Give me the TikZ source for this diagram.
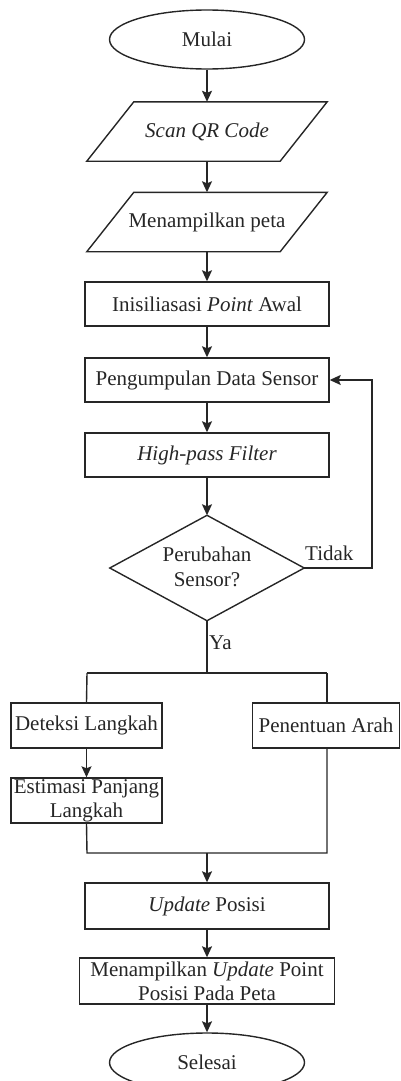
\documentclass[tikz,border=0pt]{standalone}
\usepackage{fontspec}
\setmainfont{Liberation Serif}
\usetikzlibrary{shapes.geometric,arrows.meta}
\begin{document}
\begin{tikzpicture}[x=1pt,y=-1pt,
  every node/.style={font=\fontsize{21}{25}\selectfont, text=black!85, align=center, inner sep=0pt},
  line/.style={line width=1.4pt, draw=black!85},
  arr/.style={line, -{Stealth[length=11pt,width=10pt,inset=2pt]}},
  term/.style={ellipse, line, minimum width=195pt, minimum height=59pt},
  procbox/.style={rectangle, line, minimum height=45pt},
  iobox/.style={rectangle, minimum width=240pt, minimum height=59pt},
  frame/.style={rectangle, minimum width=194pt, minimum height=105pt}
]
\useasboundingbox (0,0) rectangle (400,1081);
\clip (0,0) rectangle (400,1081);

% terminals, inputs and process steps
\node[term] (start) at (207,39.5) {Mulai};
\node[iobox] (scan) at (207,131.5) {\textit{Scan QR Code}};
\node[iobox] (map) at (207,222) {Menampilkan peta};
\node[procbox, minimum width=244pt, minimum height=44pt] (init) at (207,304) {Inisiliasasi \textit{Point} Awal};
\node[procbox, minimum width=244pt, minimum height=44pt] (collect) at (207,380) {Pengumpulan Data Sensor};
\node[procbox, minimum width=244pt, minimum height=44pt] (hpf) at (207,455) {\textit{High-pass Filter}};
\node[frame] (dec) at (207,568) {};
\node (dectext) at (207,567) {Perubahan\\Sensor?};
\node[procbox, minimum width=151pt] (step) at (86.5,725.5) {Deteksi Langkah};
\node[procbox, minimum width=147pt] (heading) at (326,725.5) {Penentuan Arah};
\node[procbox, minimum width=151pt, font=\fontsize{21}{24}\selectfont] (est) at (86.5,800.5) {Estimasi Panjang\\Langkah};
\node[procbox, minimum width=244pt, minimum height=46pt] (upd) at (207,906) {\textit{Update} Posisi};
\node[procbox, minimum width=255pt, minimum height=46pt, font=\fontsize{21}{24}\selectfont] (show) at (207,981) {Menampilkan \textit{Update} Point\\Posisi Pada Peta};
\node[term] (end) at (207,1062.5) {Selesai};

% parallelogram outlines for the input/output steps
\foreach \n in {scan,map}{
  \draw[line] ([xshift=47pt]\n.north west) -- (\n.north east)
    -- ([xshift=-47pt]\n.south east) -- (\n.south west) -- cycle;
}
% decision diamond
\draw[line] (dec.north) -- (dec.east) -- (dec.south) -- (dec.west) -- cycle;

% branch and merge points
\coordinate (split) at (207,673);
\coordinate (splitL) at (87,673);
\coordinate (splitR) at (327,673);
\coordinate (mergeL) at (87,853);
\coordinate (mergeR) at (327,853);
\coordinate (merge) at (207,853);
\coordinate (loop) at (372,568);
\coordinate (loopTop) at (372,380);

% main flow
\draw[arr] (start) -- (scan.north);
\draw[arr] (scan.south) -- (map.north);
\draw[arr] (map.south) -- (init.north);
\draw[arr] (init) -- (collect);
\draw[arr] (collect) -- (hpf);
\draw[arr] (hpf.south) -- (dec.north);

% "Tidak" loops back to sensor collection
\draw[arr] (dec.east) -- (loop) -- (loopTop) -- (collect.east);
\node[anchor=base west] (no) at (305,560) {Tidak};

% "Ya" splits into step and heading estimation
\draw[line] (dec.south) -- (split);
\node[anchor=west] (yes) at (209,643) {Ya};
\draw[line] (splitL) -- (splitR);
\draw[line] (splitL) -- (step.north);
\draw[line] (splitR) -- (heading.north -| splitR);
\draw[arr] (step) -- (est);

% merge back
\draw[line] (est.south) -- (mergeL) -- (mergeR) -- (heading.south -| mergeR);
\draw[arr] (merge) -- (upd.north);
\draw[arr] (upd) -- (show);
\draw[arr] (show) -- (end);
\end{tikzpicture}
\end{document}
